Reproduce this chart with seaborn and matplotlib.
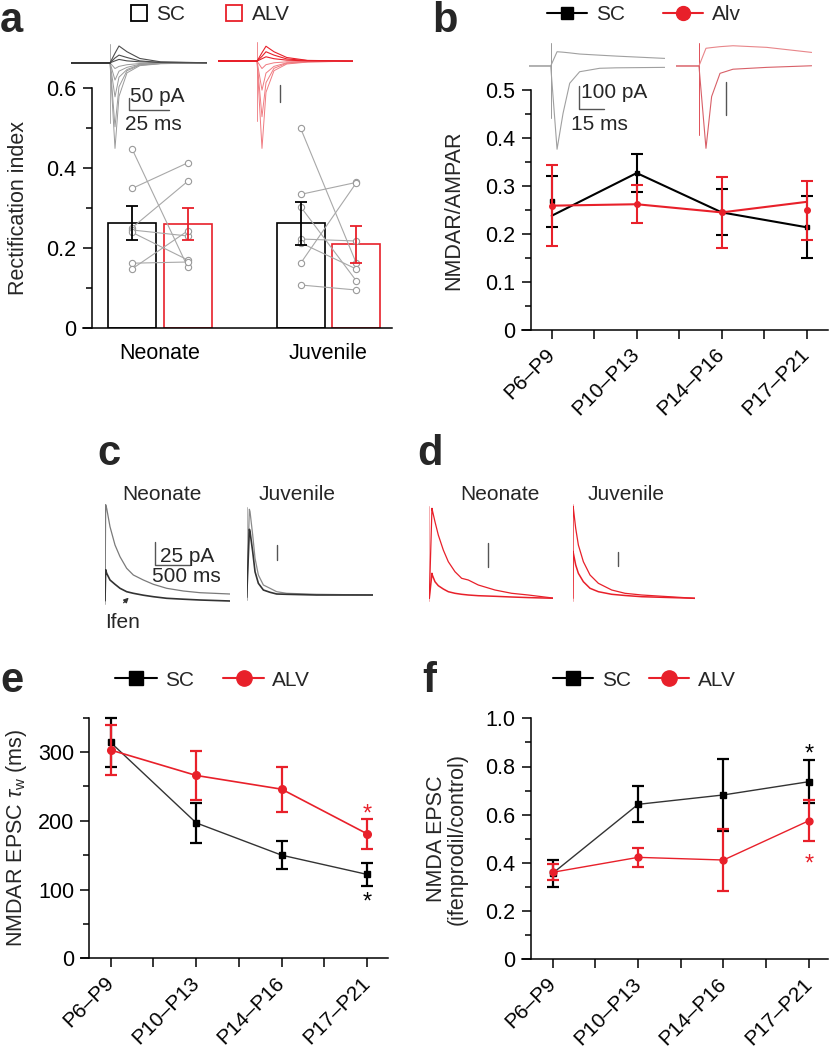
import numpy as np
import pandas as pd
import matplotlib
matplotlib.use("Agg")
import matplotlib.pyplot as plt
from matplotlib.lines import Line2D
import seaborn as sns

# ============================================================
# DATA
# ============================================================

RED = "#e8202a"
AGES_A = ["Neonate", "Juvenile"]
PATHS = ["SC", "ALV"]
AGE_BINS = ["P6\u2013P9", "P10\u2013P13", "P14\u2013P16", "P17\u2013P21"]

# a - rectification index
RI_MEAN = {"SC": [0.263, 0.262], "ALV": [0.260, 0.209]}
RI_SEM = {"SC": [0.043, 0.054], "ALV": [0.040, 0.046]}
RI_NEO_SC = [0.447, 0.349, 0.251, 0.245, 0.239, 0.162, 0.148]
RI_NEO_ALV = [0.152, 0.413, 0.367, 0.230, 0.170, 0.165, 0.243]
RI_JUV_SC = [0.499, 0.334, 0.303, 0.2225, 0.213, 0.162, 0.1075]
RI_JUV_ALV = [0.162, 0.364, 0.118, 0.2175, 0.1475, 0.363, 0.095]

# b - NMDAR/AMPAR
NA_SC = [0.268, 0.327, 0.245, 0.214]
NA_SC_LINE = [0.238, 0.327, 0.245, 0.214]
NA_SC_ERR = [0.053, 0.040, 0.048, 0.065]
NA_ALV = [0.259, 0.262, 0.245, 0.249]
NA_ALV_LINE = [0.259, 0.262, 0.245, 0.267]
NA_ALV_ERR = [0.084, 0.040, 0.074, 0.061]

# e - decay tau (ms)
TAU_SC = [314, 197, 150, 122]
TAU_SC_ERR = [35, 29, 20, 17]
TAU_ALV = [303, 266, 246, 181]
TAU_ALV_ERR = [37, 36, 33, 22]

# f - ifenprodil / control
IF_SC = [0.357, 0.643, 0.682, 0.737]
IF_SC_ERR = [0.055, 0.075, 0.150, 0.088]
IF_ALV = [0.361, 0.423, 0.412, 0.575]
IF_ALV_ERR = [0.034, 0.040, 0.127, 0.085]

# example traces: time (ms) and current (pA)
T_A = [0, 24.4, 27.5, 30, 35, 43, 56, 85]
TR_A_SC_OUT = [[0, 0, 40, 70, 46, 18, 4, 0],
               [0, 0, 20, 32, 22, 8, 1, 0],
               [0, 0, 8, 14, 8, 4, 2, 0]]
TR_A_SC_IN = [[0, 0, -24, -15, -8, -3, -1, 0],
              [0, 0, -72, -35, -19, -6, -2, 0],
              [0, 0, -142, -60, -28, -8, -3, 0],
              [0, 0, -267, -100, -33, -10, -3, 0],
              [0, 0, -357, -140, -42, -12, -4, 0]]
TR_A_ALV_OUT = [[0, 0, 35, 62, 39, 15, 3, 0],
                [0, 0, 20, 39, 25, 9, 2, 0],
                [0, 0, 10, 18, 10, 4, 1, 0]]
TR_A_ALV_IN = [[0, 0, -31, -15, -7, -3, -1, 0],
               [0, 0, -121, -50, -22, -7, -2, 0],
               [0, 0, -232, -90, -30, -9, -3, 0],
               [0, 0, -364, -130, -40, -12, -4, 0]]
ART_A = [80, -250]

T_B_SC = [0, 12.7, 16.4, 19.9, 23.8, 29.6, 41.3, 51, 79.4]
TR_B_SC_OUT = [0, 0, 62, 60, 57, 52, 47, 43, 33]
TR_B_SC_IN = [0, 0, -362, -206, -75, -25, -10, -8, -6]
T_B_ALV = [0, 13.6, 17.7, 21, 25.9, 33.5, 53.2, 79.5]
TR_B_ALV_OUT = [0, 0, 77, 80, 84, 88, 81, 59]
TR_B_ALV_IN = [0, 0, -358, -133, -32, -14, -6, 1]
ART_B_SC = [99, -226]
ART_B_ALV = [99, -300]

T_C_NEO = [0, 10, 25, 75, 150, 225, 325, 425, 575, 725, 925, 1175, 1425, 1875]
TR_C_NEO_CTRL = [0, 96, 92.4, 74, 55.7, 44, 32.4, 25.7, 20.7, 16.4, 12.4, 9.7, 8, 6.7]
TR_C_NEO_IFEN = [0, 31, 27.4, 20.7, 16.4, 12.4, 9, 7.4, 5.5, 4, 2.4, 1.5, 0.7, -0.3]
T_C_JUV = [0, 40, 50, 90, 125, 175, 250, 350, 450, 600, 1050, 1900]
TR_C_JUV_CTRL = [0, 88, 85.6, 62.3, 39, 22.3, 12.3, 9, 5.6, 4, 3, 2.3]
TR_C_JUV_IFEN = [0, 68, 65.6, 45.6, 25.6, 14, 7.3, 5, 3.3, 3, 2.3, 2.3]

T_D_NEO = [0, 40, 45, 85, 135, 210, 285, 385, 485, 585, 735, 985, 1235, 1485, 1885]
TR_D_NEO_CTRL = [0, 90, 88.3, 76.6, 63.3, 48.3, 36.6, 26.6, 20, 18.3, 13.3, 8.3, 5, 3.3, 0]
TR_D_NEO_IFEN = [0, 25, 23.3, 16.6, 12.6, 9.3, 6.6, 5, 4, 3.3, 2.6, 2, 1.3, 0.7, 0]
T_D_JUV = [0, 5, 10, 45, 85, 160, 260, 385, 585, 785, 1035, 1835]
TR_D_JUV_CTRL = [0, 92, 90, 70, 53.3, 36.6, 23.3, 15, 8.3, 5, 3.3, 0]
TR_D_JUV_IFEN = [0, 47, 45, 33.3, 25, 16.6, 10, 6.6, 4, 2.8, 1.6, 0]

# ============================================================
# STYLE
# ============================================================

sns.set_style("ticks")
plt.rcParams["font.family"] = ["Liberation Sans", "DejaVu Sans"]
plt.rcParams["mathtext.fontset"] = "custom"
plt.rcParams["mathtext.rm"] = "Liberation Sans"
plt.rcParams["mathtext.it"] = "Liberation Sans:italic"
plt.rcParams["axes.edgecolor"] = "black"
plt.rcParams["xtick.color"] = "black"
plt.rcParams["ytick.color"] = "black"

TICK_FS = 15.5
LEG_FS = 15
NOTE_FS = 15

W, H = 831, 1050
fig = plt.figure(figsize=(W / 100, H / 100), dpi=100)


def px_rect(x0, y0, x1, y1):
    return [x0 / W, 1 - y1 / H, (x1 - x0) / W, (y1 - y0) / H]


def style_axes(ax, ylim, major, minor, labels, lead):
    ax.set_ylim(*ylim)
    ax.set_yticks(major)
    ax.set_yticklabels(labels)
    ax.set_yticks(minor, minor=True)
    ax.spines[["top", "right"]].set_visible(False)
    for s in ("left", "bottom"):
        ax.spines[s].set_linewidth(1.1)
    ax.spines["left"].set_position(("data", lead))
    ax.tick_params(axis="both", which="both", direction="out", width=1.1,
                   labelsize=TICK_FS)
    ax.tick_params(axis="y", which="major", length=6.5, pad=4.5)
    ax.tick_params(axis="y", which="minor", length=4.5)
    ax.set_xlabel("")


def age_xaxis(ax, xlim):
    ax.set_xticks(range(len(AGE_BINS)))
    ax.set_xticklabels(AGE_BINS)
    ax.set_xticks([0.5, 1.5, 2.5], minor=True)
    ax.tick_params(axis="x", which="both", length=6.5, pad=9, labelsize=15)
    for lab in ax.get_xticklabels():
        lab.set_rotation(45)
        lab.set_ha("right")
        lab.set_va("center")
        lab.set_rotation_mode("anchor")
    ax.set_xlim(*xlim)


def trace_axes(x0, y0, x1, y1, xlim, ylim):
    tax = fig.add_axes(px_rect(x0, y0, x1, y1))
    tax.set_xlim(*xlim)
    tax.set_ylim(*ylim)
    tax.axis("off")
    return tax


def line_legend(handles, labels, x_px, y_px, hl, htp, cs):
    fig.legend(handles, labels, loc="center left",
               bbox_to_anchor=(x_px / W, 1 - y_px / H), ncol=2, frameon=False,
               fontsize=LEG_FS, handlelength=hl, handletextpad=htp,
               columnspacing=cs, borderpad=0, borderaxespad=0)


# ============================================================
# a - RECTIFICATION INDEX
# ============================================================

ax_a = fig.add_axes(px_rect(83, 88, 392, 328))
df_a = pd.DataFrame({
    "Age": AGES_A * 2,
    "Pathway": ["SC"] * 2 + ["ALV"] * 2,
    "RI": RI_MEAN["SC"] + RI_MEAN["ALV"],
})
sns.barplot(data=df_a, x="Age", y="RI", hue="Pathway", order=AGES_A,
            hue_order=PATHS, palette={"SC": "black", "ALV": RED},
            width=0.66, gap=0.136, fill=False, linewidth=1.2,
            errorbar=None, legend=False, ax=ax_a)

centers = sorted(p.get_x() + p.get_width() / 2 for p in ax_a.patches)
pos = {("SC", 0): centers[0], ("ALV", 0): centers[1],
       ("SC", 1): centers[2], ("ALV", 1): centers[3]}

pairs = [(RI_NEO_SC, RI_NEO_ALV), (RI_JUV_SC, RI_JUV_ALV)]
for i, (sc_vals, alv_vals) in enumerate(pairs):
    for s, a in zip(sc_vals, alv_vals):
        ax_a.plot([pos[("SC", i)], pos[("ALV", i)]], [s, a], color="#a8a8a8",
                  lw=0.8, marker="o", ms=4.5, mfc="white", mec="#9a9a9a",
                  mew=0.8, zorder=3, clip_on=False)

for path, col in (("SC", "black"), ("ALV", RED)):
    xs = [pos[(path, i)] for i in range(2)]
    ax_a.errorbar(xs, RI_MEAN[path], yerr=RI_SEM[path], fmt="none", ecolor=col,
                  elinewidth=1.3, capsize=4, capthick=1.3, zorder=4)

style_axes(ax_a, (0, 0.6), [0, 0.2, 0.4, 0.6], [0.1, 0.3, 0.5],
           ["0", "0.2", "0.4", "0.6"], -0.404)
ax_a.set_xlim(-0.457, 1.377)
ax_a.tick_params(axis="x", length=0, pad=11, labelsize=TICK_FS)
ax_a.set_ylabel("Rectification index", fontsize=TICK_FS)
ax_a.yaxis.set_label_coords(-0.175, 0.5)

fig.legend([Line2D([], [], ls="none", marker="s", ms=11, mfc="none",
                   mec="black", mew=1.3),
            Line2D([], [], ls="none", marker="s", ms=11, mfc="none",
                   mec=RED, mew=1.3)],
           ["SC", "ALV"], loc="center left",
           bbox_to_anchor=(127.5 / W, 1 - 15 / H), ncol=2, frameon=False,
           fontsize=LEG_FS, handlelength=1.08, handletextpad=0.3,
           columnspacing=1.8, borderpad=0, borderaxespad=0)

# traces a
tr = trace_axes(71, 40, 207, 152, (0, 85), (-372, 95))
tr.plot([T_A[1], T_A[1]], ART_A, color="#aaaaaa", lw=0.7)
for y in TR_A_SC_IN:
    tr.plot(T_A, y, color="#9a9a9a", lw=0.7)
for y in TR_A_SC_OUT:
    tr.plot(T_A, y, color="#4d4d4d", lw=0.8)
tr.plot(T_A[:2], [0, 0], color="#333333", lw=1.3)
tr.plot([36.25, 36.25, 61.25], [-147, -197, -197], color="#555555", lw=1.0)
fig.text(130 / W, 1 - 97 / H, "50 pA", fontsize=NOTE_FS, va="center")
fig.text(125 / W, 1 - 124 / H, "25 ms", fontsize=NOTE_FS, va="center")

tr = trace_axes(218, 40, 353, 152, (0, 84.4), (-379, 88))
tr.plot([T_A[1], T_A[1]], ART_A, color="#f08a8f", lw=0.7)
for y in TR_A_ALV_IN:
    tr.plot(T_A, y, color="#f07a80", lw=0.7)
for y in TR_A_ALV_OUT:
    tr.plot(T_A, y, color=RED, lw=0.8)
tr.plot(T_A[:2], [0, 0], color=RED, lw=1.3)
tr.plot([38.75, 38.75], [-100, -170], color="#555555", lw=1.0)

# ============================================================
# b - NMDAR/AMPAR
# ============================================================

ax_b = fig.add_axes(px_rect(521.7, 90, 828, 330))
x_pos = np.arange(len(AGE_BINS))
sns.lineplot(x=x_pos, y=NA_SC_LINE, color="black", lw=1.5, ax=ax_b)
sns.lineplot(x=x_pos, y=NA_ALV_LINE, color=RED, lw=1.5, ax=ax_b)
ax_b.errorbar(x_pos, NA_SC, yerr=NA_SC_ERR, fmt="s", color="black", ms=3.5,
              elinewidth=1.5, capsize=4.5, capthick=1.5, zorder=4)
ax_b.errorbar(x_pos, NA_ALV, yerr=NA_ALV_ERR, fmt="o", color=RED, ms=4,
              elinewidth=1.5, capsize=4.5, capthick=1.5, zorder=5)
style_axes(ax_b, (0, 0.5), [0, 0.1, 0.2, 0.3, 0.4, 0.5],
           [0.05, 0.15, 0.25, 0.35, 0.45],
           ["0", "0.1", "0.2", "0.3", "0.4", "0.5"], -0.247)
age_xaxis(ax_b, (-0.353, 3.25))
ax_b.set_ylabel("NMDAR/AMPAR", fontsize=TICK_FS)
ax_b.yaxis.set_label_coords(-0.188, 0.5)

line_legend([Line2D([], [], color="black", lw=1.5, marker="s", ms=9),
             Line2D([], [], color=RED, lw=1.5, marker="o", ms=10)],
            ["SC", "Alv"], 547, 15, 1.92, 0.43, 1.83)

# traces b
tr = trace_axes(529, 40, 665, 152, (0, 79.5), (-374, 113))
tr.plot([T_B_SC[1], T_B_SC[1]], ART_B_SC, color="#9a9a9a", lw=0.7)
tr.plot(T_B_SC, TR_B_SC_OUT, color="#a0a0a0", lw=0.8)
tr.plot(T_B_SC, TR_B_SC_IN, color="#a0a0a0", lw=0.8)
tr.plot([29.0, 29.0, 44.0], [-87, -187, -187], color="#555555", lw=1.0)
fig.text(581 / W, 1 - 93 / H, "100 pA", fontsize=NOTE_FS, va="center")
fig.text(571 / W, 1 - 125 / H, "15 ms", fontsize=NOTE_FS, va="center")

tr = trace_axes(675.7, 40, 811.7, 152, (0, 79.5), (-374, 113))
tr.plot([T_B_ALV[1], T_B_ALV[1]], ART_B_ALV, color="#e05058", lw=0.7)
tr.plot(T_B_ALV, TR_B_ALV_OUT, color="#e8868a", lw=0.8)
tr.plot(T_B_ALV, TR_B_ALV_IN, color="#d86068", lw=0.8)
tr.plot([29.4, 29.4], [-68, -213], color="#555555", lw=1.0)

# ============================================================
# c / d - EXAMPLE NMDA EPSCs
# ============================================================

tr = trace_axes(105, 500, 230, 605, (0, 1875), (-4.3, 100.7))
tr.plot([0, 0], [-3, 96], color="#aaaaaa", lw=0.6)
tr.plot(T_C_NEO, TR_C_NEO_CTRL, color="#7a7a7a", lw=0.9)
tr.plot(T_C_NEO, TR_C_NEO_IFEN, color="#333333", lw=1.2)
tr.plot([750, 750, 1275], [59, 35.7, 35.7], color="#555555", lw=1.0)
tr.annotate("", xy=(385, 5), xytext=(250, -4),
            arrowprops=dict(arrowstyle="-|>", color="#333333", lw=0.9,
                            mutation_scale=7), annotation_clip=False)
fig.text(160 / W, 1 - 556 / H, "25 pA", fontsize=NOTE_FS, va="center")
fig.text(152 / W, 1 - 577 / H, "500 ms", fontsize=NOTE_FS, va="center")
fig.text(105 / W, 1 - 622 / H, "Ifen", fontsize=NOTE_FS, va="center")
fig.text(162 / W, 1 - 494 / H, "Neonate", fontsize=NOTE_FS, va="center",
         ha="center")

tr = trace_axes(246.7, 500, 373.3, 605, (0, 1900), (-7.7, 97.3))
tr.plot([0, 0], [-3, 90], color="#aaaaaa", lw=0.6)
tr.plot(T_C_JUV, TR_C_JUV_CTRL, color="#8a8a8a", lw=0.9)
tr.plot(T_C_JUV, TR_C_JUV_IFEN, color="#333333", lw=1.2)
tr.plot([450, 450], [52.3, 37.3], color="#555555", lw=1.0)
fig.text(297.5 / W, 1 - 494 / H, "Juvenile", fontsize=NOTE_FS, va="center",
         ha="center")

tr = trace_axes(429.3, 500, 553.3, 605, (0, 1860), (-6.7, 98.3))
tr.plot([0, 0], [-3, 92], color="#f4a0a4", lw=0.6)
tr.plot(T_D_NEO, TR_D_NEO_CTRL, color=RED, lw=0.9)
tr.plot(T_D_NEO, TR_D_NEO_IFEN, color=RED, lw=1.1)
tr.plot([885, 885], [55, 31.6], color="#555555", lw=1.0)
fig.text(500 / W, 1 - 494 / H, "Neonate", fontsize=NOTE_FS, va="center",
         ha="center")

tr = trace_axes(572.7, 500, 695, 605, (0, 1835), (-6.7, 98.3))
tr.plot([0, 0], [-3, 94], color="#f4a0a4", lw=0.6)
tr.plot(T_D_JUV, TR_D_JUV_CTRL, color=RED, lw=0.9)
tr.plot(T_D_JUV, TR_D_JUV_IFEN, color=RED, lw=1.1)
tr.plot([675, 675], [46.6, 32.3], color="#555555", lw=1.0)
fig.text(626 / W, 1 - 494 / H, "Juvenile", fontsize=NOTE_FS, va="center",
         ha="center")

# ============================================================
# e - DECAY TIME CONSTANT
# ============================================================

ax_e = fig.add_axes(px_rect(81, 717.7, 388, 958.3))
sns.lineplot(x=x_pos, y=TAU_SC, color="#333333", lw=1.0, ax=ax_e)
sns.lineplot(x=x_pos, y=TAU_ALV, color=RED, lw=1.2, ax=ax_e)
ax_e.errorbar(x_pos, TAU_SC, yerr=TAU_SC_ERR, fmt="s", color="black", ms=4.5,
              elinewidth=1.6, capsize=4.5, capthick=1.6, zorder=4, clip_on=False)
ax_e.errorbar(x_pos, TAU_ALV, yerr=TAU_ALV_ERR, fmt="o", color=RED, ms=5.5,
              elinewidth=1.6, capsize=4.5, capthick=1.6, zorder=5, clip_on=False)
style_axes(ax_e, (0, 350), [0, 100, 200, 300], [50, 150, 250, 350],
           ["0", "100", "200", "300"], -0.25)
age_xaxis(ax_e, (-0.347, 3.243))
ax_e.set_ylabel("NMDAR EPSC $\\tau_{\\rm w}$ (ms)", fontsize=TICK_FS)
ax_e.yaxis.set_label_coords(-0.17, 0.5)
ax_e.text(3, 200, "*", color=RED, fontsize=17, ha="center", va="baseline")
ax_e.text(3, 72, "*", color="black", fontsize=17, ha="center", va="baseline")

line_legend([Line2D([], [], color="black", lw=1.5, marker="s", ms=10),
             Line2D([], [], color=RED, lw=1.5, marker="o", ms=11)],
            ["SC", "ALV"], 115, 680, 2.0, 0.38, 1.4)

# ============================================================
# f - IFENPRODIL SENSITIVITY
# ============================================================

ax_f = fig.add_axes(px_rect(521.7, 718.3, 828, 959.3))
sns.lineplot(x=x_pos, y=IF_SC, color="#333333", lw=1.0, ax=ax_f)
sns.lineplot(x=x_pos, y=IF_ALV, color=RED, lw=1.0, ax=ax_f)
ax_f.errorbar(x_pos, IF_SC, yerr=IF_SC_ERR, fmt="s", color="black", ms=4.5,
              elinewidth=1.6, capsize=4.5, capthick=1.6, zorder=4)
ax_f.errorbar(x_pos, IF_ALV, yerr=IF_ALV_ERR, fmt="o", color=RED, ms=5,
              elinewidth=1.6, capsize=4.5, capthick=1.6, zorder=5)
style_axes(ax_f, (0, 1.0), [0, 0.2, 0.4, 0.6, 0.8, 1.0],
           [0.1, 0.3, 0.5, 0.7, 0.9],
           ["0", "0.2", "0.4", "0.6", "0.8", "1.0"], -0.258)
age_xaxis(ax_f, (-0.363, 3.224))
ax_f.set_ylabel("NMDA EPSC\n(ifenprodil/control)", fontsize=TICK_FS,
                linespacing=1.0)
ax_f.yaxis.set_label_coords(-0.175, 0.5)
ax_f.text(3, 0.825, "*", color="black", fontsize=17, ha="center", va="baseline")
ax_f.text(3, 0.37, "*", color=RED, fontsize=17, ha="center", va="baseline")

line_legend([Line2D([], [], color="black", lw=1.5, marker="s", ms=10),
             Line2D([], [], color=RED, lw=1.5, marker="o", ms=11)],
            ["SC", "ALV"], 553, 680, 1.92, 0.43, 0.87)

# ============================================================
# PANEL LETTERS
# ============================================================

for letter, x, y in (("a", 0, 32), ("b", 432, 32), ("c", 97, 465),
                     ("d", 417, 465), ("e", 0, 692), ("f", 422, 692)):
    fig.text(x / W, 1 - y / H, letter, fontsize=30, fontweight="bold",
             va="baseline", ha="left")

fig.savefig("out.png", dpi=100)
